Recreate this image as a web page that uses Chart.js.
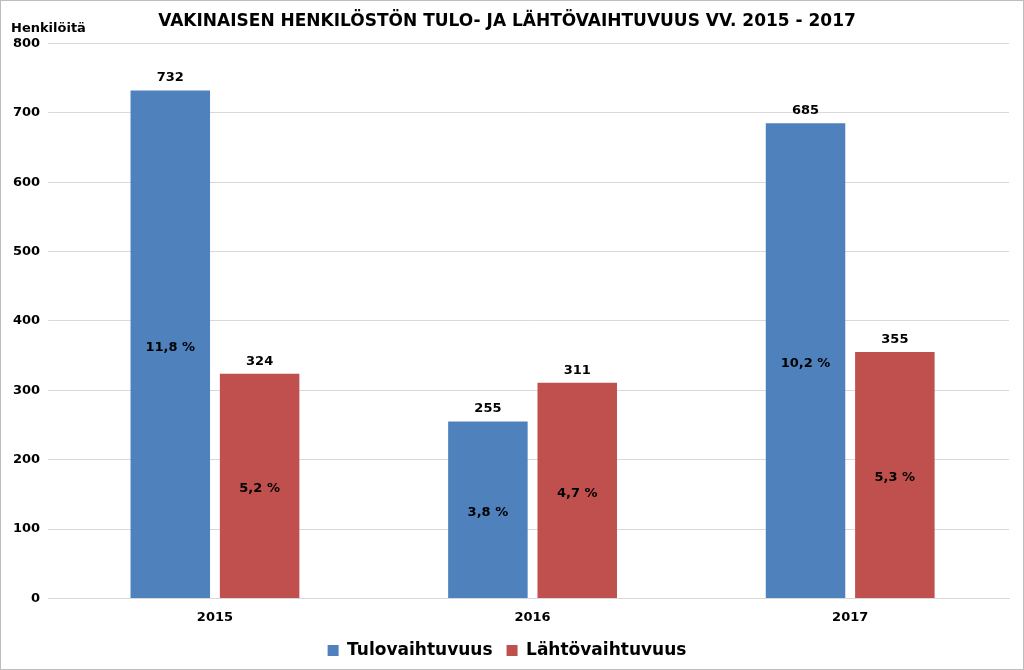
<!DOCTYPE html>
<html><head><meta charset="utf-8">
<script src="https://cdn.jsdelivr.net/npm/chart.js@4"></script>
<style>html,body{margin:0;padding:0;background:#fff}#w{width:1022px;height:668px;border:1px solid #bdbdbd}</style>
</head><body><div id="w"><canvas id="c"></canvas></div>
<script>
const categories = ['2015','2016','2017'];
const tulo = [732,255,685];
const lahto = [324,311,355];
const tuloPct = ['11,8 %','3,8 %','10,2 %'];
const lahtoPct = ['5,2 %','4,7 %','5,3 %'];
const yTicks = [0,100,200,300,400,500,600,700,800];
const F = 'DejaVu Sans, Verdana, sans-serif';
const labels = {
  id:'labels',
  afterDatasetsDraw(ch){
    const ctx=ch.ctx; ctx.save();
    ctx.font='bold 13px '+F; ctx.fillStyle='#000'; ctx.textAlign='center';
    const pcts=[tuloPct,lahtoPct];
    ch.data.datasets.forEach((ds,di)=>{
      ch.getDatasetMeta(di).data.forEach((b,i)=>{
        ctx.textBaseline='bottom';
        ctx.fillText(String(ds.data[i]), b.x, b.y-6);
        ctx.textBaseline='middle';
        ctx.fillText(pcts[di][i], b.x, (b.y+b.base)/2+3);
      });
    });
    ctx.textAlign='left'; ctx.textBaseline='middle';
    ctx.fillText('Henkilöitä', 10, 28);
    ctx.restore();
  }
};
new Chart(document.getElementById('c'),{
  type:'bar',
  data:{labels:categories,datasets:[
    {label:'Tulovaihtuvuus',data:tulo,backgroundColor:'#4f81bd'},
    {label:'Lähtövaihtuvuus',data:lahto,backgroundColor:'#c0504d'}]},
  options:{responsive:true,maintainAspectRatio:false,animation:false,
    layout:{padding:{top:10,right:14,left:4,bottom:0}},
    datasets:{bar:{categoryPercentage:0.5625,barPercentage:0.89}},
    plugins:{
      title:{display:true,text:'VAKINAISEN HENKILÖSTÖN TULO- JA LÄHTÖVAIHTUVUUS VV. 2015 - 2017',
        font:{family:F,size:17,weight:'bold'},color:'#000',padding:{top:0,bottom:12}},
      legend:{position:'bottom',labels:{font:{family:F,size:17,weight:'bold'},color:'#000',boxWidth:11,boxHeight:11,padding:14}},
      tooltip:{enabled:false}},
    scales:{
      x:{grid:{display:false},border:{color:'#d9d9d9'},ticks:{font:{family:F,size:13,weight:'bold'},color:'#000'}},
      y:{min:0,max:800,afterBuildTicks:a=>{a.ticks=yTicks.map(v=>({value:v}))},
        grid:{color:'#d9d9d9'},border:{display:false},
        ticks:{font:{family:F,size:13,weight:'bold'},color:'#000',padding:8}}}},
  plugins:[labels]
});
</script></body></html>
